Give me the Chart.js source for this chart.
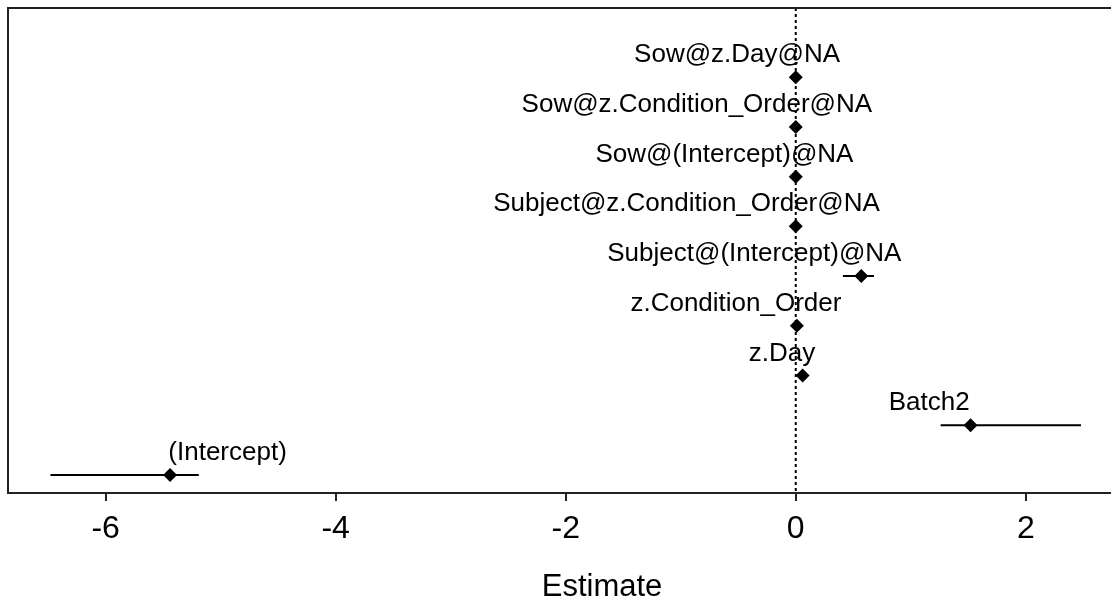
<!DOCTYPE html>
<html>
<head>
<meta charset="utf-8">
<script src="https://cdn.jsdelivr.net/npm/chart.js@4"></script>
<style>
  html, body { margin: 0; background: #fff; overflow: hidden; }
  #wrap { width: 1196px; height: 603px; }
</style>
</head>
<body>
<div id="wrap"><canvas id="grafico" width="1196" height="603"></canvas></div>
<script>
// model terms, bottom row first
const terms = ['(Intercept)', 'Batch2', 'z.Day', 'z.Condition_Order',
  'Subject@(Intercept)@NA', 'Subject@z.Condition_Order@NA',
  'Sow@(Intercept)@NA', 'Sow@z.Condition_Order@NA', 'Sow@z.Day@NA'];
const rows = [1, 2, 3, 4, 5, 6, 7, 8, 9];
const estimates = [-5.44, 1.52, 0.06, 0.01, 0.57, 0, 0, 0, 0];
const lower = [-6.48, 1.26, 0.03, -0.01, 0.41, 0, 0, 0, 0];
const upper = [-5.19, 2.48, 0.09, 0.03, 0.68, 0, 0, 0, 0];
// where each term label sits along the x axis
const labelX = [-4.94, 1.16, -0.12, -0.52, -0.36, -0.95, -0.62, -0.86, -0.51];
const xTicks = [-6, -4, -2, 0, 2];

const fam = '"Liberation Sans", Arial, sans-serif';

let barData = [];
lower.forEach(function(lo, i){
  barData.push({x: lo, y: rows[i]});
  barData.push({x: upper[i], y: rows[i]});
  barData.push({x: upper[i], y: null});
});
let pointData = estimates.map(function(e, i){ return {x: e, y: rows[i]}; });

const extras = {
  id: 'extras',
  beforeDatasetsDraw(chart){
    const ctx = chart.ctx, a = chart.chartArea;
    const x0 = chart.scales.x.getPixelForValue(0);
    ctx.save();
    ctx.strokeStyle = '#000';
    ctx.lineWidth = 2;
    ctx.setLineDash([3, 3]);
    ctx.beginPath();
    ctx.moveTo(x0, a.top);
    ctx.lineTo(x0, a.bottom);
    ctx.stroke();
    ctx.restore();
  },
  afterDatasetsDraw(chart){
    const ctx = chart.ctx, a = chart.chartArea;
    const xs = chart.scales.x, ys = chart.scales.y;
    ctx.save();
    ctx.fillStyle = '#000';
    ctx.font = '26px ' + fam;
    ctx.textAlign = 'center';
    ctx.textBaseline = 'alphabetic';
    terms.forEach(function(t, i){
      ctx.fillText(t, xs.getPixelForValue(labelX[i]), ys.getPixelForValue(rows[i]) - 15);
    });
    // plot box
    ctx.strokeStyle = '#222';
    ctx.lineWidth = 2;
    ctx.strokeRect(a.left, a.top, a.right - a.left, a.bottom - a.top);
    ctx.restore();
  }
};

const ctx = document.getElementById('grafico').getContext('2d');
new Chart(ctx, {
  data: {
    datasets: [{
      type: 'line',
      data: barData,
      borderColor: '#000',
      borderWidth: 2,
      pointRadius: 0,
      spanGaps: false
    }, {
      type: 'scatter',
      data: pointData,
      pointStyle: 'rectRot',
      pointRadius: 7,
      backgroundColor: '#000',
      borderColor: '#000',
      borderWidth: 0
    }]
  },
  plugins: [extras],
  options: {
    responsive: false,
    animation: false,
    layout: { autoPadding: false, padding: { left: 8, top: 8, right: 0, bottom: 0 } },
    plugins: { legend: { display: false }, tooltip: { enabled: false } },
    scales: {
      x: {
        type: 'linear',
        min: -6.849,
        max: 3.48,
        afterBuildTicks: function(s){ s.ticks = xTicks.map(function(v){ return {value: v}; }); },
        afterFit: function(s){ s.height = 110; },
        grid: { drawOnChartArea: false, drawTicks: true, tickLength: 8, color: '#222', lineWidth: 2 },
        border: { display: true, color: '#222', width: 2 },
        ticks: { color: '#000', font: { family: fam, size: 32 }, padding: 9, maxRotation: 0 },
        title: { display: true, text: 'Estimate', color: '#000', font: { family: fam, size: 31, lineHeight: 1 }, padding: { top: 0, bottom: 0 } }
      },
      y: {
        type: 'linear',
        display: false,
        min: 0.64,
        max: 10.39
      }
    }
  }
});
</script>
</body>
</html>
